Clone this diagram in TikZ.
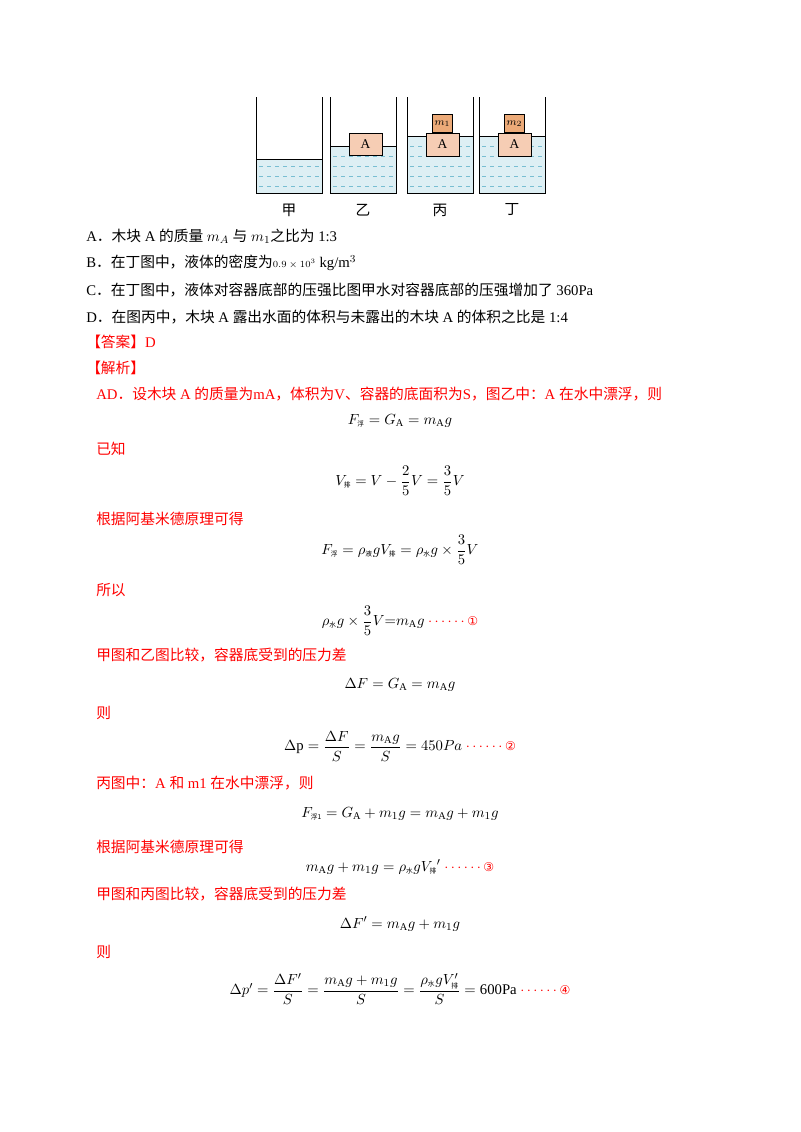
\documentclass[tikz,border=0pt]{standalone}
\usepackage{amsmath}
\usepackage{fontspec}
\setmainfont{Liberation Serif}
\newfontfamily\cjk{Noto Sans CJK SC}
\newfontfamily\symf{DejaVu Sans}
\usetikzlibrary{positioning}
\definecolor{waterblue}{RGB}{120,190,210}
\definecolor{woodfill}{RGB}{246,205,180}
\definecolor{mfill}{RGB}{236,170,120}
\newcommand{\zh}[1]{{\cjk #1}}
\newcommand{\sz}[1]{\text{\cjk\tiny #1}}
\tikzset{
    txt/.style = {anchor=west, inner sep=0pt, font=\fontsize{11}{13}\selectfont},
    redtxt/.style = {txt, text=red},
    eqn/.style = {inner sep=0pt, font=\fontsize{11}{13}\selectfont},
    tank/.style = {draw=black, line width=0.7pt},
    water/.style = {fill=waterblue!25},
    waves/.style = {waterblue, dashed, line width=0.4pt},
    block/.style = {draw=black, fill=woodfill, line width=0.5pt, inner sep=0pt, font=\fontsize{10}{12}\selectfont},
    mass/.style = {draw=black, fill=mfill, line width=0.5pt, inner sep=0pt, font=\fontsize{8}{10}\selectfont},
    tanklabel/.style = {font=\cjk\fontsize{11}{13}\selectfont}
}
\begin{document}
\begin{tikzpicture}[x=0.02625cm, y=-0.02625cm]
\useasboundingbox (0,0) rectangle (800,1132);

% containers
\foreach \xa/\wl/\lab in {256/159/甲, 330/146/乙, 407/136/丙, 479/136/丁}{
    \fill[water] (\xa,\wl) rectangle (\xa+66,193);
    \foreach \yy in {166,176,186}
        \draw[waves] (\xa+3,\yy) -- (\xa+63,\yy);
    \draw[tank] (\xa,97) -- (\xa,193) -- (\xa+66,193) -- (\xa+66,97);
    \draw[line width=0.5pt] (\xa,\wl) -- (\xa+66,\wl);
    \node[tanklabel] at (\xa+33,210) {\lab};
}
\draw[waves] (333,156) -- (393,156);
\draw[waves] (410,146) -- (470,146); \draw[waves] (410,156) -- (470,156);
\draw[waves] (482,146) -- (542,146); \draw[waves] (482,156) -- (542,156);
\node (blockB) [block, minimum width=0.87cm, minimum height=0.58cm] at (365.5,144) {A};
\node (blockC) [block, minimum width=0.87cm, minimum height=0.6cm] at (442.5,144.5) {A};
\node (massC) [mass, minimum width=0.53cm, minimum height=0.47cm, above=0pt of blockC] {$m_1$};
\node (blockD) [block, minimum width=0.87cm, minimum height=0.6cm] at (514.5,144.5) {A};
\node (massD) [mass, minimum width=0.53cm, minimum height=0.47cm, above=0pt of blockD] {$m_2$};

% options
\node (optA) [txt] at (86,236) {A\zh{．木块} A \zh{的质量} $m_A$ \zh{与} $m_1$\zh{之比为} 1:3};
\node (optB) [txt] at (86,263) {B\zh{．在丁图中，液体的密度为}{\scriptsize $0.9\times10^3$} kg/m$^3$};
\node (optC) [txt] at (86,290) {C\zh{．在丁图中，液体对容器底部的压强比图甲水对容器底部的压强增加了} 360Pa};
\node (optD) [txt] at (86,317) {D\zh{．在图丙中，木块} A \zh{露出水面的体积与未露出的木块} A \zh{的体积之比是} 1:4};
\node (ans) [redtxt] at (86,342) {\zh{【答案】}D};
\node (jx) [redtxt] at (86,368) {\zh{【解析】}};

% solution
\node (s1) [redtxt] at (96,394) {AD\zh{．设木块} A \zh{的质量为}mA\zh{，体积为}V\zh{、容器的底面积为}S\zh{，图乙中：}A \zh{在水中漂浮，则}};
\node (e1) [eqn] at (400,421) {$F_{\sz{浮}}=G_{\mathrm{A}}=m_{\mathrm{A}}g$};
\node (s2) [redtxt] at (96,449) {\zh{已知}};
\node (e2) [eqn] at (400,481) {$V_{\sz{排}}=V-\dfrac{2}{5}V=\dfrac{3}{5}V$};
\node (s3) [redtxt] at (96,519) {\zh{根据阿基米德原理可得}};
\node (e3) [eqn] at (400,550) {$F_{\sz{浮}}=\rho_{\sz{液}}gV_{\sz{排}}=\rho_{\sz{水}}g\times\dfrac{3}{5}V$};
\node (s4) [redtxt] at (96,590) {\zh{所以}};
\node (e4) [eqn] at (400,621) {$\rho_{\sz{水}}g\times\dfrac{3}{5}V{=}m_{\mathrm{A}}g$ {\color{red}$\cdots\cdots$\symf\small ①}};
\node (s5) [redtxt] at (96,655) {\zh{甲图和乙图比较，容器底受到的压力差}};
\node (e5) [eqn] at (400,685) {$\Delta F=G_{\mathrm{A}}=m_{\mathrm{A}}g$};
\node (s6) [redtxt] at (96,713) {\zh{则}};
\node (e6) [eqn] at (400,746) {$\Delta \mathrm{p}=\dfrac{\Delta F}{S}=\dfrac{m_{\mathrm{A}}g}{S}=450Pa$ {\color{red}$\cdots\cdots$\symf\small ②}};
\node (s7) [redtxt] at (96,783) {\zh{丙图中：}A \zh{和} m1 \zh{在水中漂浮，则}};
\node (e7) [eqn] at (400,814) {$F_{\sz{浮1}}=G_{\mathrm{A}}+m_1g=m_{\mathrm{A}}g+m_1g$};
\node (s8) [redtxt] at (96,847) {\zh{根据阿基米德原理可得}};
\node (e8) [eqn] at (400,867) {$m_{\mathrm{A}}g+m_1g=\rho_{\sz{水}}gV_{\sz{排}}{}'$ {\color{red}$\cdots\cdots$\symf\small ③}};
\node (s9) [redtxt] at (96,894) {\zh{甲图和丙图比较，容器底受到的压力差}};
\node (e9) [eqn] at (400,924) {$\Delta F'=m_{\mathrm{A}}g+m_1g$};
\node (s10) [redtxt] at (96,952) {\zh{则}};
\node (e10) [eqn] at (400,989) {$\Delta p'=\dfrac{\Delta F'}{S}=\dfrac{m_{\mathrm{A}}g+m_1g}{S}=\dfrac{\rho_{\sz{水}}gV'_{\sz{排}}}{S}=\text{600Pa}$ {\color{red}$\cdots\cdots$\symf\small ④}};
\end{tikzpicture}
\end{document}
